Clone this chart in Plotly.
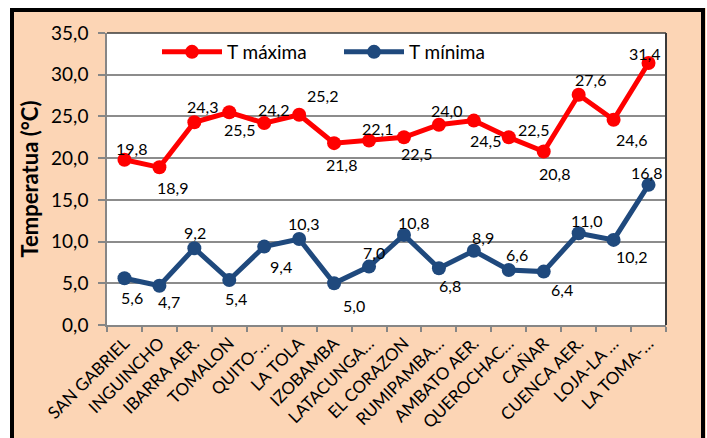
import plotly.graph_objects as go

# Weather stations and their mean temperatures (°C)
stations = ["SAN GABRIEL", "INGUINCHO", "IBARRA AER.", "TOMALON", "QUITO-…", "LA TOLA",
            "IZOBAMBA", "LATACUNGA…", "EL CORAZON", "RUMIPAMBA…", "AMBATO AER.",
            "QUEROCHAC…", "CAÑAR", "CUENCA AER.", "LOJA-LA …", "LA TOMA-…"]
t_max = [19.8, 18.9, 24.3, 25.5, 24.2, 25.2, 21.8, 22.1, 22.5, 24.0, 24.5, 22.5,
         20.8, 27.6, 24.6, 31.4]
t_min = [5.6, 4.7, 9.2, 5.4, 9.4, 10.3, 5.0, 7.0, 10.8, 6.8, 8.9, 6.6,
         6.4, 11.0, 10.2, 16.8]
y_ticks = [0, 5, 10, 15, 20, 25, 30, 35]

# Pixel nudges (right, up) for each value label
max_label_shift = [(7, 11), (13, -20), (8, 16), (10, -17), (9, 14), (23, 19), (7, -21), (8, 12),
                   (13, -16), (8, 14), (12, -20), (25, 8), (11, -22), (12, 15), (18, -20), (-4, 10)]
min_label_shift = [(8, -19), (10, -16), (1, 16), (7, -19), (17, -20), (4, 16), (20, -22), (5, 14),
                   (10, 12), (11, -17), (9, 13), (8, 15), (18, -18), (8, 13), (18, -17), (-2, 12)]

RED = "#FF0000"
BLUE = "#1F497D"
PEACH = "#FCD5B5"
FONT = "Lato"

W, H = 707, 438
L, R, T, B = 107, 41, 33, 113
PW, PH = W - L - R, H - T - B


def px_x(p):
    return (p - L) / PW


def px_y(p):
    return (H - B - p) / PH


def fmt(v):
    return f"{v:.1f}".replace(".", ",")


fig = go.Figure()
fig.add_trace(go.Scatter(
    x=stations, y=t_max, name="T máxima", mode="lines+markers",
    line=dict(color=RED, width=5), marker=dict(color=RED, size=14),
    legend="legend", showlegend=True))
fig.add_trace(go.Scatter(
    x=stations, y=t_min, name="T mínima", mode="lines+markers",
    line=dict(color=BLUE, width=5), marker=dict(color=BLUE, size=14),
    legend="legend2", showlegend=True))

annotations = []
for series, shifts in ((t_max, max_label_shift), (t_min, min_label_shift)):
    for name, v, (dx, dy) in zip(stations, series, shifts):
        annotations.append(dict(
            x=name, y=v, xref="x", yref="y", text=fmt(v), showarrow=False,
            xshift=dx, yshift=dy, font=dict(family=FONT, size=16, color="#000000")))

shapes = [
    # outer chart frame
    dict(type="rect", xref="paper", yref="paper", x0=px_x(12), x1=px_x(703),
         y0=px_y(10), y1=px_y(460), line=dict(color="#000000", width=4), layer="below"),
    # white page outside the frame
    dict(type="rect", xref="paper", yref="paper", x0=px_x(-2), x1=px_x(10),
         y0=px_y(-2), y1=px_y(H + 2), fillcolor="white", line_width=0, layer="below"),
    dict(type="rect", xref="paper", yref="paper", x0=px_x(-2), x1=px_x(W + 2),
         y0=px_y(-2), y1=px_y(8), fillcolor="white", line_width=0, layer="below"),
    dict(type="rect", xref="paper", yref="paper", x0=px_x(706), x1=px_x(W + 2),
         y0=px_y(-2), y1=px_y(H + 2), fillcolor="white", line_width=0, layer="below"),
    # plot-area border on top and right
    dict(type="line", xref="paper", yref="paper", x0=0, x1=1, y0=1, y1=1,
         line=dict(color="#3a3a3a", width=1.5)),
    dict(type="line", xref="paper", yref="paper", x0=1, x1=1, y0=0, y1=1,
         line=dict(color="#3a3a3a", width=2)),
]

legend_style = dict(xanchor="left", yanchor="middle", orientation="h",
                    bgcolor="rgba(0,0,0,0)", itemwidth=60,
                    font=dict(family=FONT, size=19, color="#000000"))

fig.update_layout(
    width=W, height=H,
    margin=dict(l=L, r=R, t=T, b=B, pad=0, autoexpand=False),
    paper_bgcolor=PEACH, plot_bgcolor="white",
    separators=",.",
    showlegend=True,
    font=dict(family=FONT, color="#000000"),
    annotations=annotations, shapes=shapes,
    legend=dict(x=px_x(157), y=px_y(52), **legend_style),
    legend2=dict(x=px_x(339), y=px_y(52), **legend_style),
)

fig.update_xaxes(
    type="category", range=[-0.5, len(stations) - 0.5],
    tickangle=-45, tickson="boundaries", automargin=False,
    ticks="outside", ticklen=5, tickwidth=1.5, tickcolor="#868686",
    showline=True, linecolor="#868686", linewidth=1.5, showgrid=False,
    tickfont=dict(family=FONT, size=17, color="#000000"))
fig.update_yaxes(
    range=[0, 35], tickvals=y_ticks, tickformat=".1f", automargin=False,
    ticks="outside", ticklen=7, tickwidth=1.5, tickcolor="#868686",
    showline=True, linecolor="#868686", linewidth=1.5,
    showgrid=True, gridcolor="#8c8c8c", gridwidth=1.5, zeroline=False,
    ticklabelstandoff=6,
    title=dict(text="<b>Temperatua (°C)</b>", standoff=6,
               font=dict(family=FONT, size=22, color="#000000")),
    tickfont=dict(family=FONT, size=19, color="#000000"))

fig.write_html("out.html")
